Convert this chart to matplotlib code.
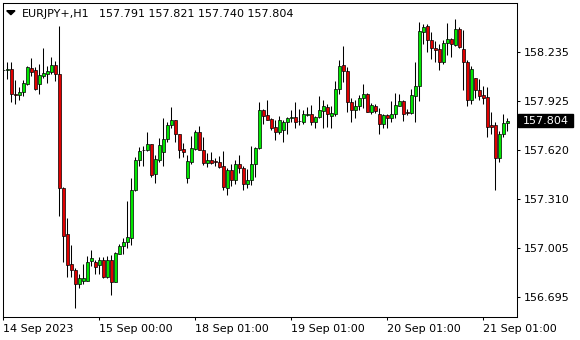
import matplotlib
matplotlib.use('Agg')
import matplotlib.pyplot as plt
from matplotlib.patches import Rectangle, Polygon
from matplotlib.transforms import blended_transform_factory

# EURJPY+ H1 bars
opens = [158.122, 158.124, 158.128, 157.971, 157.963, 157.986, 158.034, 158.134, 158.122, 158.032,
         158.086, 158.095, 158.111, 158.153, 158.095, 157.378, 157.089, 156.900, 156.863, 156.779,
         156.798, 156.798, 156.923, 156.915, 156.898, 156.926, 156.821, 156.926, 156.791, 156.967,
         157.013, 157.039, 157.064, 157.370, 157.554, 157.617, 157.617, 157.655, 157.466, 157.558,
         157.604, 157.688, 157.776, 157.806, 157.718, 157.625, 157.441, 157.542, 157.625, 157.730,
         157.621, 157.537, 157.558, 157.548, 157.542, 157.516, 157.382, 157.491, 157.428, 157.529,
         157.508, 157.403, 157.428, 157.529, 157.630, 157.868, 157.839, 157.814, 157.764, 157.734,
         157.747, 157.793, 157.822, 157.826, 157.801, 157.797, 157.841, 157.843, 157.793, 157.826,
         157.864, 157.889, 157.835, 157.843, 158.002, 158.153, 158.116, 157.919, 157.873, 157.894,
         157.944, 157.973, 157.856, 157.894, 157.843, 157.780, 157.839, 157.822, 157.847, 157.898,
         157.927, 157.856, 157.852, 157.956, 158.019, 158.363, 158.396, 158.308, 158.262, 158.254,
         158.174, 158.292, 158.317, 158.279, 158.380, 158.254, 158.170, 157.931, 158.070, 157.994,
         157.965, 157.952, 157.776, 157.776, 157.567, 157.718, 157.791]
highs = [158.174, 158.174, 158.174, 158.057, 158.015, 158.061, 158.145, 158.199, 158.143, 158.158,
         158.262, 158.147, 158.206, 158.180, 158.401, 157.388, 157.194, 157.022, 156.879, 156.842,
         156.904, 156.951, 156.993, 156.926, 156.946, 156.946, 156.951, 156.959, 156.980, 157.026,
         157.064, 157.298, 157.441, 157.575, 157.638, 157.646, 157.734, 157.659, 157.588, 157.692,
         157.822, 157.793, 157.889, 157.810, 157.722, 157.663, 157.588, 157.705, 157.747, 157.768,
         157.701, 157.600, 157.604, 157.567, 157.579, 157.613, 157.504, 157.533, 157.554, 157.588,
         157.521, 157.500, 157.642, 157.638, 157.919, 157.877, 157.931, 157.818, 157.806, 157.831,
         157.806, 157.826, 157.868, 157.919, 157.877, 157.868, 157.889, 157.902, 157.835, 157.961,
         157.935, 157.910, 157.898, 158.053, 158.183, 158.271, 158.141, 157.948, 157.931, 157.965,
         158.032, 157.977, 157.914, 157.910, 157.881, 157.847, 157.847, 157.927, 157.977, 157.973,
         157.935, 157.877, 158.002, 158.174, 158.426, 158.409, 158.413, 158.363, 158.304, 158.283,
         158.313, 158.417, 158.325, 158.442, 158.392, 158.371, 158.187, 158.145, 158.074, 158.065,
         158.023, 158.015, 157.856, 157.797, 157.738, 157.847, 157.821]
lows = [158.111, 158.065, 157.919, 157.910, 157.935, 157.961, 158.028, 158.086, 157.994, 157.973,
        158.070, 158.042, 158.095, 158.053, 157.206, 156.917, 156.823, 156.823, 156.628, 156.750,
        156.775, 156.796, 156.888, 156.837, 156.837, 156.812, 156.812, 156.707, 156.791, 156.963,
        156.963, 157.005, 157.022, 157.361, 157.521, 157.521, 157.613, 157.449, 157.412, 157.546,
        157.521, 157.671, 157.755, 157.671, 157.571, 157.575, 157.412, 157.529, 157.621, 157.617,
        157.525, 157.512, 157.533, 157.521, 157.504, 157.370, 157.336, 157.395, 157.407, 157.474,
        157.370, 157.382, 157.399, 157.449, 157.625, 157.784, 157.806, 157.747, 157.684, 157.722,
        157.671, 157.722, 157.793, 157.759, 157.776, 157.784, 157.835, 157.776, 157.759, 157.822,
        157.759, 157.764, 157.759, 157.835, 157.973, 158.049, 157.860, 157.797, 157.818, 157.868,
        157.881, 157.856, 157.843, 157.852, 157.722, 157.755, 157.759, 157.793, 157.818, 157.894,
        157.801, 157.839, 157.847, 157.797, 157.927, 158.287, 158.233, 158.191, 158.174, 158.124,
        158.162, 158.216, 158.204, 158.275, 158.258, 157.998, 157.898, 157.910, 157.948, 157.931,
        157.910, 157.701, 157.718, 157.365, 157.546, 157.701, 157.740]
closes = [158.120, 158.128, 157.969, 157.963, 157.984, 158.038, 158.139, 158.111, 158.002, 158.088,
          158.103, 158.116, 158.153, 158.095, 157.378, 157.081, 156.896, 156.863, 156.779, 156.812,
          156.812, 156.917, 156.938, 156.882, 156.926, 156.821, 156.926, 156.791, 156.972, 157.016,
          157.039, 157.072, 157.366, 157.554, 157.613, 157.621, 157.655, 157.462, 157.562, 157.650,
          157.688, 157.776, 157.806, 157.718, 157.621, 157.609, 157.550, 157.630, 157.730, 157.621,
          157.537, 157.558, 157.537, 157.544, 157.512, 157.386, 157.491, 157.428, 157.529, 157.508,
          157.403, 157.428, 157.529, 157.630, 157.868, 157.835, 157.810, 157.759, 157.734, 157.806,
          157.793, 157.818, 157.826, 157.797, 157.799, 157.843, 157.845, 157.793, 157.826, 157.868,
          157.894, 157.843, 157.852, 158.002, 158.145, 158.116, 157.919, 157.873, 157.894, 157.944,
          157.973, 157.860, 157.902, 157.864, 157.780, 157.839, 157.822, 157.847, 157.902, 157.927,
          157.847, 157.852, 157.965, 158.019, 158.367, 158.392, 158.308, 158.262, 158.250, 158.174,
          158.292, 158.317, 158.283, 158.380, 158.266, 158.170, 157.931, 158.128, 157.994, 157.961,
          157.948, 157.764, 157.764, 157.567, 157.722, 157.789, 157.804]

tick_bars = [0, 24, 48, 72, 96, 120]
tick_labels = ['14 Sep 2023', '15 Sep 00:00', '18 Sep 01:00', '19 Sep 01:00',
               '20 Sep 01:00', '21 Sep 01:00']
price_ticks = [158.235, 157.925, 157.620, 157.310, 157.005, 156.695]

W, H = 580, 340
fig = plt.figure(figsize=(W / 100, H / 100), dpi=100)
ax = fig.add_axes([2.7 / W, (H - 316.7) / H, 514 / W, 314.2 / H])

x = list(range(len(opens)))
colors = ['#00e600' if c > o else '#e00000' for o, c in zip(opens, closes)]
bottoms = [min(o, c) for o, c in zip(opens, closes)]
heights = [max(abs(c - o), 0.0008) for o, c in zip(opens, closes)]

ax.vlines(x, lows, highs, color='black', lw=0.75, zorder=1)
ax.bar(x, heights, bottom=bottoms, width=0.7, color=colors,
       edgecolor='black', linewidth=0.5, zorder=2)

ymin, ymax = 156.571, 158.546
ax.set_xlim(-0.15, 128.35)
ax.set_ylim(ymin, ymax)

ax.set_xticks(tick_bars)
ax.set_xticklabels(tick_labels, ha='left')
ax.yaxis.tick_right()
ax.set_yticks(price_ticks)
ax.set_yticklabels([f'{p:.3f}' for p in price_ticks])
ax.tick_params(axis='both', direction='out', length=2.4, width=0.75,
               labelsize=8, colors='black')
ax.tick_params(axis='x', pad=2.5)
ax.tick_params(axis='y', pad=2.6)
for sp in ax.spines.values():
    sp.set_linewidth(0.75)
    sp.set_color('black')

# last price marker on the price scale
pp = (ymax - ymin) / 314.2
trans = blended_transform_factory(ax.transAxes, ax.transData)
ax.add_patch(Rectangle((1 + 1.6 / 514, closes[-1] - 6.2 * pp), 55 / 514, 12.3 * pp,
                       transform=trans, color='black', clip_on=False, zorder=5))
ax.text(1 + 6.6 / 514, closes[-1], f'{closes[-1]:.3f}', transform=trans,
        color='white', va='center', ha='left', fontsize=8, clip_on=False, zorder=6)

# header
fig.patches.append(Polygon([[6.7 / W, 1 - 10.7 / H], [15 / W, 1 - 10.7 / H],
                            [10.85 / W, 1 - 14.7 / H]], closed=True,
                           transform=fig.transFigure, color='black'))
fig.text(21.7 / W, 1 - 17.3 / H, 'EURJPY+,H1', fontsize=8, va='baseline')
ohlc = [opens[-1], highs[-1], lows[-1], closes[-1]]
fig.text(99.3 / W, 1 - 17.3 / H, ' '.join(f'{v:.3f}' for v in ohlc),
         fontsize=8, va='baseline')

fig.savefig('out.png', dpi=100)
